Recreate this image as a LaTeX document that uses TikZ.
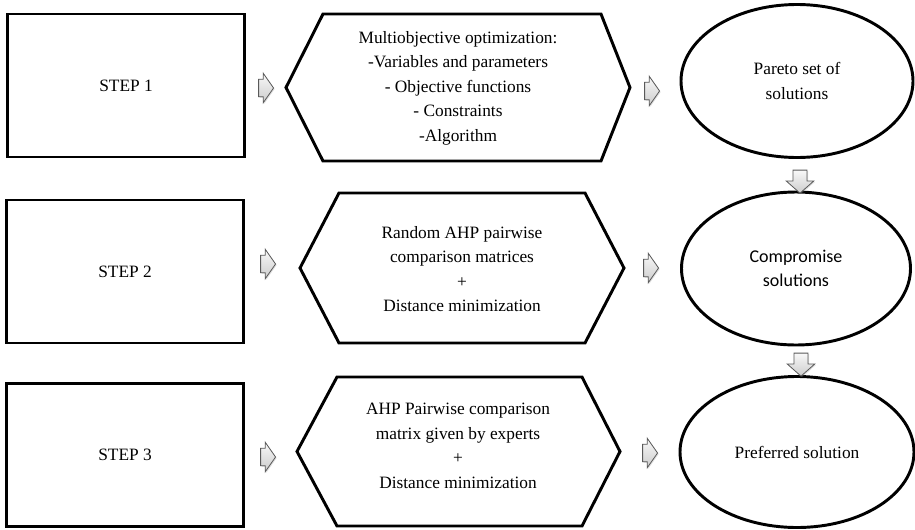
\documentclass[tikz,border=0pt]{standalone}
\usepackage{fontspec}
\setmainfont{Liberation Serif}
\newfontfamily\calibrifont{Carlito}
\usetikzlibrary{shapes.geometric,shapes.arrows,shadows}

\tikzset{
  stepbox/.style={draw, line width=2.2pt, minimum width=237*0.75pt, minimum height=143*0.75pt, inner sep=0pt, font=\fontsize{13}{18.4}\selectfont},
  hexline/.style={line width=2.2pt, line join=miter},
  txt/.style={align=center, inner sep=0.75pt, font=\fontsize{13}{18.4}\selectfont},
  result/.style={ellipse, draw, line width=2.2pt, inner sep=0pt, align=center, font=\fontsize{13}{18.4}\selectfont},
  rarrow/.style={single arrow, draw=gray!70!black, line width=0.6pt, top color=gray!5, bottom color=gray!40,
    inner xsep=3pt, inner ysep=6.3pt, minimum width=0pt, minimum height=0pt, single arrow head extend=4.5pt, single arrow tip angle=110,
    drop shadow={opacity=0.25, shadow xshift=0.8pt, shadow yshift=-0.8pt}},
  darrow/.style={rarrow, shape border rotate=270, inner xsep=5pt, inner ysep=6pt, single arrow head extend=5pt, single arrow tip angle=97}
}

\begin{document}
\begin{tikzpicture}[x=0.75pt,y=0.75pt,yscale=-1,xscale=1]
            \useasboundingbox (0,0) rectangle (915,529);

            % Steps
            \node[stepbox] (step1) at (126,85.5) {STEP 1};
            \node[stepbox] (step2) at (125,271.5) {STEP 2};
            \node[stepbox] (step3) at (125,455) {STEP 3};

            % Hexagons
            \draw[hexline] (286,87.5) -- (323,14) -- (601,14) -- (630,87.5) -- (601,161) -- (323,161) -- cycle;
            \draw[hexline] (300,268) -- (339,193) -- (585,193) -- (624,268) -- (585,343) -- (339,343) -- cycle;
            \draw[hexline] (297,451.5) -- (337,377) -- (582,377) -- (620,451.5) -- (582,526) -- (337,526) -- cycle;

            \node[txt] (optim) at (458,88) {Multiobjective optimization:\\-Variables and parameters\\- Objective functions\\- Constraints\\-Algorithm};
            \node[txt] (random) at (462,269) {Random AHP pairwise\\comparison matrices\\+\\Distance minimization};
            \node[txt] (experts) at (458,446) {AHP Pairwise comparison\\matrix given by experts\\+\\Distance minimization};

            % Results
            \node[result, minimum width=232*0.75pt, minimum height=153*0.75pt] (pareto) at (797,81) {Pareto set of\\solutions};
            \node[result, minimum width=229*0.75pt, minimum height=153*0.75pt, font=\calibrifont\fontsize{13.5}{18}\selectfont] (compromise) at (796,268.5) {Compromise\\solutions};
            \node[result, minimum width=234*0.75pt, minimum height=151*0.75pt] (preferred) at (797,452) {Preferred solution};

            % Block arrows
            \node[rarrow] (r1a) at (263,88) {};
            \node[rarrow] (r2a) at (265,264) {};
            \node[rarrow] (r3a) at (265,457) {};
            \node[rarrow] (r1b) at (649,91) {};
            \node[rarrow] (r2b) at (648,268) {};
            \node[rarrow] (r3b) at (647,453) {};
            \node[darrow] (d1) at (800,178.5) {};
            \node[darrow] (d2) at (801,361.5) {};

\end{tikzpicture}
\end{document}
